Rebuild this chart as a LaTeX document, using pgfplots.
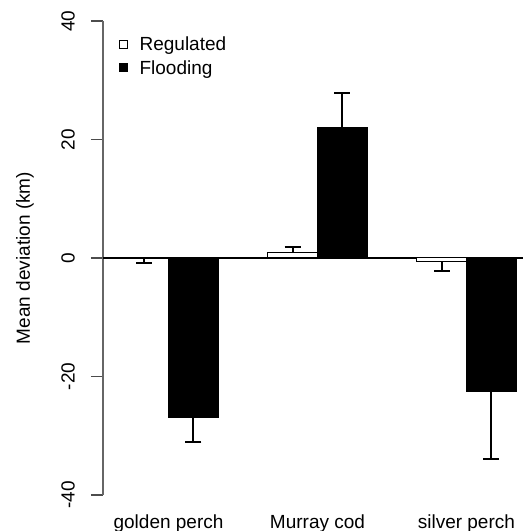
\documentclass[border=0pt]{standalone}
\usepackage{fontspec}
\setmainfont{Liberation Sans}
\usepackage{pgfplots}
\pgfplotsset{compat=1.18}
\begin{document}
\begin{tikzpicture}
\begin{axis}[
  at={(103pt,36pt)}, anchor=south west,
  scale only axis, width=420pt, height=474pt,
  xmin=0.68, xmax=9.14, ymin=-40, ymax=40,
  axis lines*=left,
  x axis line style={draw=none},
  y axis line style={draw=black!60, line width=1.2pt},
  /pgf/number format/assume math mode=true,
  ytick={-40,-20,0,20,40},
  xtick={2,5,8},
  xticklabels={golden perch, Murray cod, silver perch},
  tick align=outside,
  major tick length=12pt,
  major x tick style={draw=none},
  major y tick style={draw=black!70, line width=1.2pt},
  yticklabel style={rotate=90, anchor=south, inner sep=0pt, yshift=16pt, font=\fontsize{19}{23}\selectfont},
  xticklabel style={anchor=base, inner sep=0pt, yshift=-21pt, font=\fontsize{19}{23}\selectfont},
  ylabel={Mean deviation (km)},
  ylabel style={font=\fontsize{19}{23}\selectfont, at={(axis description cs:-0.1857,0.5)}, anchor=center},
  legend style={draw=none, fill=none, at={(axis cs:0.94,38)}, anchor=north west,
    font=\fontsize{19}{23}\selectfont, row sep=4pt},
  legend cell align=left,
  clip=false,
]
% zero line
\addplot[black, line width=1.6pt, forget plot] coordinates {(0.68,0) (9.14,0)};
% Regulated (negative bars)
\addplot[ybar, bar width=1, bar shift=0pt, draw=black, line width=1pt, fill=white,
  legend image code/.code={\draw[black, line width=0.9pt, fill=white] (0pt,-4pt) rectangle (8pt,4pt); \path[draw=none, fill=none] (0pt,0pt) -- (18pt,0pt);},
  error bars/.cd, y dir=minus, y explicit,
  error bar style={black, line width=2pt},
  error mark options={black, rotate=90, line width=2pt, mark size=8pt}]
  coordinates {(1.5,-0.1) +- (0,0.7) (7.5,-0.55) +- (0,1.65)};
\addlegendentry{Regulated}
% Flooding (negative bars)
\addplot[ybar, bar width=1, bar shift=0pt, draw=black, line width=1pt, fill=black,
  legend image code/.code={\fill[black] (0pt,-4pt) rectangle (8pt,4pt); \path[draw=none, fill=none] (0pt,0pt) -- (18pt,0pt);},
  error bars/.cd, y dir=minus, y explicit,
  error bar style={black, line width=2pt},
  error mark options={black, rotate=90, line width=2pt, mark size=8pt}]
  coordinates {(2.5,-26.9) +- (0,4.1) (8.5,-22.5) +- (0,11.5)};
\addlegendentry{Flooding}
% Regulated (positive bar)
\addplot[ybar, bar width=1, bar shift=0pt, draw=black, line width=1pt, fill=white, forget plot,
  error bars/.cd, y dir=plus, y explicit,
  error bar style={black, line width=2pt},
  error mark options={black, rotate=90, line width=2pt, mark size=8pt}]
  coordinates {(4.5,0.88) +- (0,0.9)};
% Flooding (positive bar)
\addplot[ybar, bar width=1, bar shift=0pt, draw=black, line width=1pt, fill=black, forget plot,
  error bars/.cd, y dir=plus, y explicit,
  error bar style={black, line width=2pt},
  error mark options={black, rotate=90, line width=2pt, mark size=8pt}]
  coordinates {(5.5,22.1) +- (0,5.7)};
\end{axis}
\pgfresetboundingbox
\useasboundingbox (0,0) rectangle (523pt,531pt);
\end{tikzpicture}
\end{document}
